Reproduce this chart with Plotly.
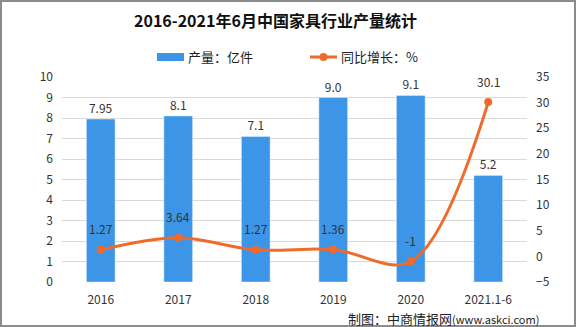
import plotly.graph_objects as go

categories = ["2016", "2017", "2018", "2019", "2020", "2021.1-6"]
output = [7.95, 8.1, 7.1, 9.0, 9.1, 5.2]
output_labels = ["7.95", "8.1", "7.1", "9.0", "9.1", "5.2"]
growth = [1.27, 3.64, 1.27, 1.36, -1, 30.1]
growth_labels = ["1.27", "3.64", "1.27", "1.36", "-1", "30.1"]

W, H = 576, 327
L, R, T, B = 62, 49, 77, 45
PW, PH = W - L - R, H - T - B

def px(x):
    return (x - L) / PW

def py(y):
    return (H - B - y) / PH

BLUE = "#3D95E8"
ORANGE = "#EF6B2A"
FONT = "Noto Sans CJK SC"

idx = list(range(len(categories)))

fig = go.Figure()
fig.add_trace(go.Bar(
    x=idx, y=output, name="产量：亿件",
    marker_color=BLUE, width=0.37,
    text=output_labels, textposition="outside",
    textfont=dict(size=12, color="#333333", family=FONT),
    cliponaxis=False,
))
fig.add_trace(go.Scatter(
    x=idx, y=growth, name="同比增长：%", yaxis="y2",
    mode="lines+markers", line=dict(color=ORANGE, width=3, shape="spline", smoothing=1.0),
    marker=dict(color=ORANGE, size=8), cliponaxis=False,
))

annotations = []
for i, g, lab in zip(idx, growth, growth_labels):
    annotations.append(dict(x=i, y=g, xref="x", yref="y2", text=lab, showarrow=False,
                            yshift=21, font=dict(size=12, color="#333333", family=FONT)))

# title
annotations.append(dict(x=px(275), y=py(20), xref="paper", yref="paper", yanchor="middle",
                        text="<b>2016-2021年6月中国家具行业产量统计</b>",
                        showarrow=False, font=dict(size=16, color="#111111", family=FONT)))
# legend texts
annotations.append(dict(x=px(186), y=py(57), xref="paper", yref="paper", text="产量：亿件",
                        xanchor="left", yanchor="middle",
                        showarrow=False, font=dict(size=13, color="#222222", family=FONT)))
annotations.append(dict(x=px(339), y=py(57), xref="paper", yref="paper", text="同比增长：%",
                        xanchor="left", yanchor="middle",
                        showarrow=False, font=dict(size=13, color="#222222", family=FONT)))
# source
annotations.append(dict(x=px(541), y=py(318), xref="paper", yref="paper", xanchor="right", yanchor="middle",
                        text="制图：中商情报网<span style='font-size:11px'>(www.askci.com)</span>",
                        showarrow=False, font=dict(size=13, color="#222222", family=FONT)))

shapes = [
    dict(type="rect", xref="paper", yref="paper", x0=px(157), x1=px(184), y0=py(53), y1=py(61),
         fillcolor=BLUE, line=dict(width=0)),
    dict(type="line", xref="paper", yref="paper", x0=px(310), x1=px(337), y0=py(57), y1=py(57),
         line=dict(color=ORANGE, width=3)),
    dict(type="circle", xref="paper", yref="paper", x0=px(319.5), x1=px(327.5), y0=py(53), y1=py(61),
         fillcolor=ORANGE, line=dict(width=0)),
    dict(type="rect", xref="paper", yref="paper", x0=px(1), x1=px(575), y0=py(1), y1=py(326),
         line=dict(color="#8C8C8C", width=2), fillcolor="rgba(0,0,0,0)", layer="above"),
]

fig.update_layout(
    width=W, height=H,
    margin=dict(l=L, r=R, t=T, b=B, pad=0),
    paper_bgcolor="white", plot_bgcolor="white",
    showlegend=False,
    font=dict(family=FONT, size=12, color="#333333"),
    xaxis=dict(range=[-0.5, 5.5], tickvals=idx, ticktext=categories, showgrid=False,
               showline=False, ticks="", zeroline=False, ticklabelstandoff=9,
               tickfont=dict(size=12, color="#333333"), fixedrange=True),
    yaxis=dict(range=[0, 10], dtick=1, showgrid=True, gridcolor="#D9D9D9", gridwidth=1,
               zeroline=False, showline=False, ticks="", ticklabelstandoff=8,
               tickfont=dict(size=12, color="#333333")),
    yaxis2=dict(range=[-5, 35], dtick=5, overlaying="y", side="right", showgrid=False,
                zeroline=False, showline=False, ticks="", ticklabelstandoff=8,
                tickfont=dict(size=12, color="#333333")),
    annotations=annotations,
    shapes=shapes,
)

fig.write_html("out.html")
